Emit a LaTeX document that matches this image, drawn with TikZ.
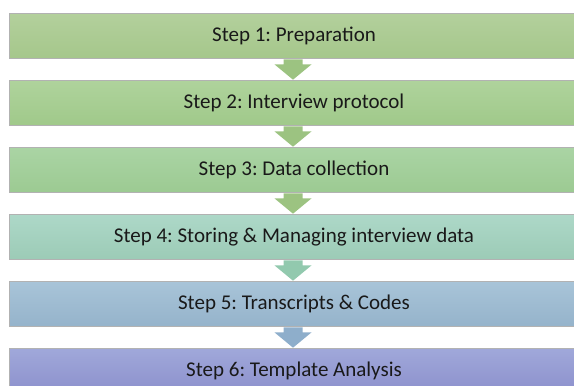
\documentclass[tikz,border=0pt]{standalone}
\usepackage{fontspec}
\setmainfont{Carlito}
\frenchspacing
\usetikzlibrary{calc}
\definecolor{ga}{HTML}{B3D09C}\definecolor{gb}{HTML}{A5C78B}
\definecolor{gc}{HTML}{AFD39C}\definecolor{gd}{HTML}{A0C98A}
\definecolor{ge}{HTML}{AAD4A4}\definecolor{gf}{HTML}{9CCA92}
\definecolor{ta}{HTML}{ADD8C8}\definecolor{tb}{HTML}{9CCBB6}
\definecolor{ba}{HTML}{A8C4D8}\definecolor{bb}{HTML}{95B3CB}
\definecolor{va}{HTML}{A0A8DA}\definecolor{vb}{HTML}{8C90CC}
\definecolor{agreen}{HTML}{9CC381}
\definecolor{ateal}{HTML}{92C9AE}
\definecolor{ablue}{HTML}{8EAECB}
\tikzset{
  stepbox/.style={rectangle, minimum width=570pt, minimum height=45pt, inner sep=0pt,
    text height=13.5pt, text depth=2pt,
    draw=black!30, line width=0.8pt, font=\fontsize{21}{25}\selectfont, text=black!90},
  flowarrow/.style={draw=none}
}
\begin{document}
\begin{tikzpicture}[x=1pt,y=-1pt]
\useasboundingbox (0,0) rectangle (574,386);
\clip (0,0) rectangle (574,386);
\node[stepbox, top color=ga, bottom color=gb] (s1) at (294,36) {Step 1: Preparation};
\node[stepbox, top color=gc, bottom color=gd] (s2) at (294,103) {Step 2: Interview protocol};
\node[stepbox, top color=ge, bottom color=gf] (s3) at (294,170) {Step 3: Data collection};
\node[stepbox, top color=ta, bottom color=tb] (s4) at (294,237) {Step 4: Storing \& Managing interview data};
\node[stepbox, top color=ba, bottom color=bb] (s5) at (294,304) {Step 5: Transcripts \& Codes};
\node[stepbox, top color=va, bottom color=vb] (s6) at (294,371) {Step 6: Template Analysis};
\foreach \a/\b/\c in {s1/s2/agreen, s2/s3/agreen, s3/s4/agreen, s4/s5/ateal, s5/s6/ablue}{
  \fill[flowarrow, fill=\c]
    ($(\a.south)+(-10.5,0.4)$) -- ($(\a.south)+(8.5,0.4)$) -- ($(\a.south)+(8.5,5.5)$)
    -- ($(\a.south)+(17.5,5.5)$) -- ($(\b.north)+(-1,-0.4)$) -- ($(\a.south)+(-19.5,5.5)$)
    -- ($(\a.south)+(-10.5,5.5)$) -- cycle;
}
\end{tikzpicture}
\end{document}
